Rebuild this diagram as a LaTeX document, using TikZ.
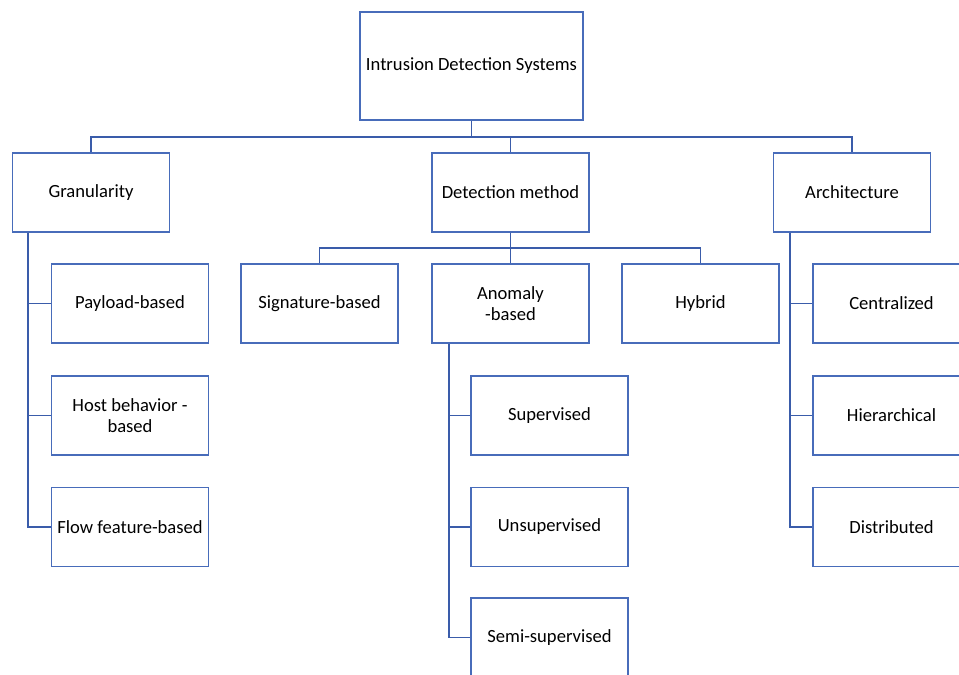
\documentclass[tikz,border=0pt]{standalone}
\usepackage{fontspec}
\setmainfont{Carlito}
\usepackage{xcolor}
\usepackage{tikz}
\definecolor{linkblue}{RGB}{58,92,170}
\definecolor{boxblue}{RGB}{72,108,186}
\tikzset{box/.style={draw=boxblue, line width=1.2pt, minimum width=157pt, minimum height=79pt,
                     inner sep=0pt, align=center, font=\fontsize{18.6}{21}\selectfont},
         link/.style={draw=linkblue, line width=1.2pt}}
\begin{document}
\begin{tikzpicture}[x=1pt,y=-1pt]
\useasboundingbox (0,0) rectangle (959,675);
\begin{scope}
\clip (0,0) rectangle (959,675);
% top and first level
\node[box, minimum width=223pt, minimum height=108pt] (ids) at (471.5,66) {Intrusion Detection Systems};
\node[box] (gran) at (91,192.5) {Granularity};
\node[box] (det) at (510.5,192.5) {Detection method};
\node[box] (arch) at (852,192.5) {Architecture};
% detection methods
\node[box] (sig) at (319.5,303.5) {Signature-based};
\node[box] (anom) at (510.5,303.5) {Anomaly\\-based};
\node[box] (hyb) at (700.5,303.5) {Hybrid};
% granularity
\node[box] (pay) at (130,303.5) {Payload-based};
\node[box] (host) at (130,415.5) {Host behavior -\\based};
\node[box] (flow) at (130,527) {Flow feature-based};
% anomaly types
\node[box] (sup) at (549.5,415.5) {Supervised};
\node[box] (unsup) at (549.5,527) {Unsupervised};
\node[box] (semi) at (549.5,637.5) {Semi-supervised};
% architecture
\node[box] (cent) at (891.5,303.5) {Centralized};
\node[box] (hier) at (891.5,415.5) {Hierarchical};
\node[box] (dist) at (891.5,527) {Distributed};
\end{scope}
% buses and spines
\coordinate (busa) at (0,137);
\coordinate (busb) at (0,248);
\coordinate (gspine) at (28,0);
\coordinate (aspine) at (449,0);
\coordinate (rspine) at (790,0);
\draw[link] (ids.south) -- (ids.south |- busa);
\draw[link] (gran.north) |- (arch.north |- busa) -- (arch.north);
\draw[link] (det.north) -- (det.north |- busa);
\draw[link] (det.south) -- (det.south |- busb);
\draw[link] (sig.north) |- (hyb.north |- busb) -- (hyb.north);
\draw[link] (anom.north) -- (anom.north |- busb);
\draw[link] (gran.south -| gspine) |- (flow.west);
\draw[link] (anom.south -| aspine) |- (semi.west);
\draw[link] (arch.south -| rspine) |- (dist.west);
\foreach \n in {pay,host}
  \draw[link] (\n.west) -- (\n.west -| gspine);
\foreach \n in {sup,unsup}
  \draw[link] (\n.west) -- (\n.west -| aspine);
\foreach \n in {cent,hier}
  \draw[link] (\n.west) -- (\n.west -| rspine);
\end{tikzpicture}
\end{document}
